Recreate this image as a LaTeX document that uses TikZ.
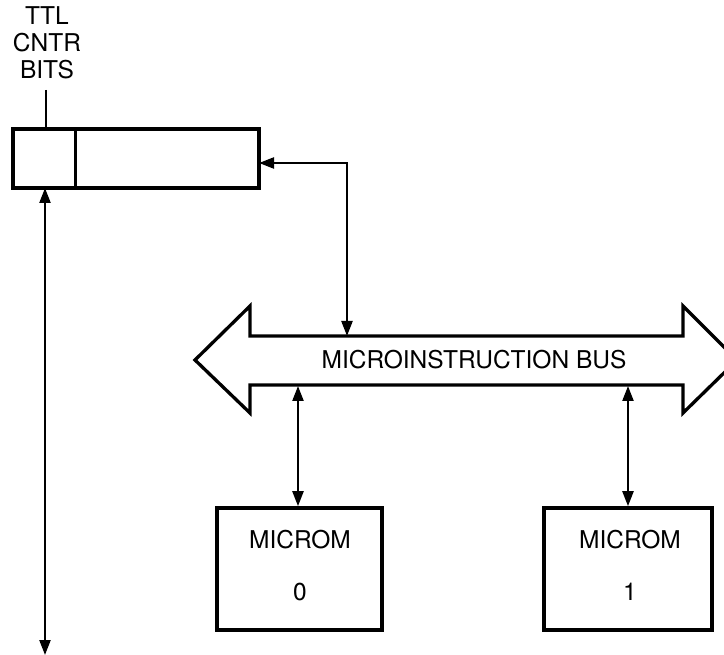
\documentclass[tikz,border=0pt]{standalone}
\usepackage{fontspec}
\setmainfont{TeX Gyre Heros}
\usetikzlibrary{arrows.meta}
\begin{document}
\begin{tikzpicture}[x=1pt,y=-1pt,
  thickbox/.style={draw,line width=3.6pt,minimum height=0pt,inner sep=0pt},
  conn/.style={line width=2.3pt,{Triangle[length=15pt,width=11pt]}-{Triangle[length=15pt,width=11pt]}},
  lbl/.style={font=\fontsize{24.5}{27}\selectfont,inner sep=0pt}]
\useasboundingbox (0,0) rectangle (724,655);
% register
\draw[line width=3.6pt] (13,129) rectangle (259,188);
\draw[line width=3pt] (75,129) -- (75,188);
\coordinate (regR) at (259,163);
\coordinate (regB) at (45,188);
\coordinate (regT) at (46,129);
\node[lbl,align=center] (ttl) at (47,43) {TTL\\CNTR\\BITS};
\draw[line width=2.3pt] (46,90) -- (regT);
% bus
\draw[line width=3.3pt,line join=miter]
  (195,360) -- (250,306) -- (250,336) -- (683,336) -- (683,306) -- (730,353)
  -- (730,367) -- (683,413) -- (683,385) -- (250,385) -- (250,413) -- cycle;
\node[lbl] (bus) at (474,360) {MICROINSTRUCTION BUS};
\coordinate (busT) at (347,336);
\coordinate (busB0) at (298,386);
\coordinate (busB1) at (628,386);
% microms
\node[thickbox,minimum width=165pt,minimum height=122pt] (m0) at (299.5,569) {};
\node[thickbox,minimum width=168pt,minimum height=122pt] (m1) at (628,569) {};
\node[lbl] (m0a) at (300,540) {MICROM};
\node[lbl] (m0b) at (300,592) {0};
\node[lbl] (m1a) at (630,540) {MICROM};
\node[lbl] (m1b) at (630,592) {1};
% connectors
\draw[conn] (regR) -| (busT);
\draw[conn] (busB0) -- (m0.north -| busB0);
\draw[conn] (busB1) -- (m1.north -| busB1);
\coordinate (bottomEnd) at (45,655);
\draw[conn] (regB) -- (bottomEnd);
\end{tikzpicture}
\end{document}
